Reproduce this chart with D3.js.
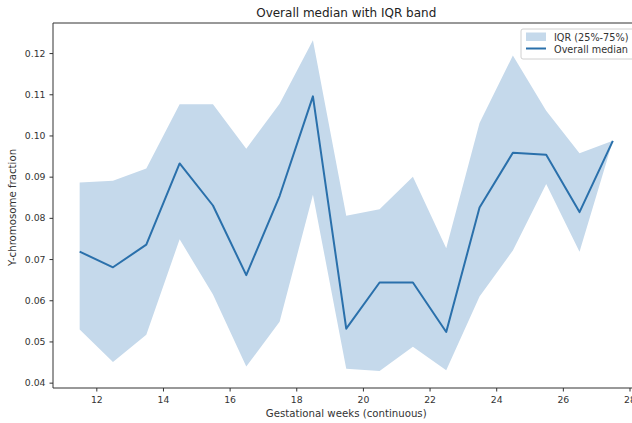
<!DOCTYPE html>
<html>
<head>
<meta charset="utf-8">
<script src="https://cdn.jsdelivr.net/npm/d3@7"></script>
<style>
  body { margin: 0; background: #fff; }
  svg { display: block; font-family: "DejaVu Sans", sans-serif; }
</style>
</head>
<body>
<svg id="chart" width="632" height="423"></svg>
<script>
// gestational week bins (bin centres)
const weeks = [11.5, 12.5, 13.5, 14.5, 15.5, 16.5, 17.5, 18.5, 19.5, 20.5, 21.5, 22.5, 23.5, 24.5, 25.5, 26.5, 27.5];
const median = [0.0718, 0.0680, 0.0735, 0.0932, 0.0830, 0.0661, 0.0853, 0.1095, 0.0531, 0.0643, 0.0643, 0.0523, 0.0825, 0.0958, 0.0953, 0.0814, 0.0987];
const q25 = [0.0529, 0.0450, 0.0516, 0.0748, 0.0614, 0.0439, 0.0548, 0.0856, 0.0434, 0.0428, 0.0487, 0.0430, 0.0609, 0.0721, 0.0882, 0.0718, 0.0987];
const q75 = [0.0886, 0.0890, 0.0920, 0.1076, 0.1076, 0.0968, 0.1077, 0.1231, 0.0805, 0.0821, 0.0900, 0.0726, 0.1030, 0.1194, 0.1060, 0.0957, 0.0987];
const xTicks = [12, 14, 16, 18, 20, 22, 24, 26, 28];
const yTicks = [0.04, 0.05, 0.06, 0.07, 0.08, 0.09, 0.10, 0.11, 0.12];

const svg = d3.select('#chart');
const margin = { top: 23, left: 53, bottom: 388, right: 639.5 };

const x = d3.scaleLinear().domain([10.7, 28.3]).range([margin.left, margin.right]);
const y = d3.scaleLinear().domain([0.0387, 0.1273]).range([margin.bottom, margin.top]);

const rows = weeks.map((w, i) => ({ w: w, m: median[i], lo: q25[i], hi: q75[i] }));

// IQR band
svg.append('path')
  .datum(rows)
  .attr('fill', '#c5d9eb')
  .attr('d', d3.area().x(d => x(d.w)).y0(d => y(d.lo)).y1(d => y(d.hi)));

// median line
svg.append('path')
  .datum(rows)
  .attr('fill', 'none')
  .attr('stroke', '#2a70ab')
  .attr('stroke-width', 2)
  .attr('stroke-linejoin', 'round')
  .attr('d', d3.line().x(d => x(d.w)).y(d => y(d.m)));

// axes
const xAxis = svg.append('g')
  .attr('transform', `translate(0,${margin.bottom})`)
  .call(d3.axisBottom(x).tickValues(xTicks).tickFormat(d3.format('d')).tickSize(3.5).tickPadding(4.5));
const yAxis = svg.append('g')
  .attr('transform', `translate(${margin.left},0)`)
  .call(d3.axisLeft(y).tickValues(yTicks).tickFormat(d3.format('.2f')).tickSize(3.5).tickPadding(4));

[xAxis, yAxis].forEach(g => {
  g.select('.domain').remove();
  g.selectAll('.tick line').attr('stroke', '#333');
  g.selectAll('.tick text').attr('fill', '#333').attr('font-size', 9.3).attr('font-family', '"DejaVu Sans", sans-serif');
});

// spines (left, bottom, top)
svg.append('path')
  .attr('fill', 'none')
  .attr('stroke', '#333')
  .attr('stroke-width', 1)
  .attr('d', `M${margin.right},${margin.top}H${margin.left}V${margin.bottom}H${margin.right}`);

// title and labels
svg.append('text')
  .attr('x', (margin.left + margin.right) / 2).attr('y', 17)
  .attr('text-anchor', 'middle').attr('font-size', 12).attr('fill', '#222')
  .text('Overall median with IQR band');

svg.append('text')
  .attr('x', (margin.left + margin.right) / 2).attr('y', 417)
  .attr('text-anchor', 'middle').attr('font-size', 10.2).attr('fill', '#333')
  .text('Gestational weeks (continuous)');

svg.append('text')
  .attr('transform', `translate(16,${(margin.top + margin.bottom) / 2 + 2}) rotate(-90)`)
  .attr('text-anchor', 'middle').attr('font-size', 10.2).attr('fill', '#333')
  .text('Y-chromosome fraction');

// legend
const legend = svg.append('g').attr('transform', 'translate(521,29)');
legend.append('rect')
  .attr('width', 130).attr('height', 30).attr('rx', 2)
  .attr('fill', 'rgba(255,255,255,0.85)').attr('stroke', '#d0d0d0');
legend.append('rect')
  .attr('x', 5).attr('y', 3.5).attr('width', 20).attr('height', 8.5)
  .attr('fill', '#c5d9eb');
legend.append('line')
  .attr('x1', 5).attr('x2', 25).attr('y1', 19.5).attr('y2', 19.5)
  .attr('stroke', '#2a70ab').attr('stroke-width', 2);
legend.append('text').attr('x', 33).attr('y', 11.5).attr('font-size', 9.7).attr('fill', '#333').text('IQR (25%-75%)');
legend.append('text').attr('x', 33).attr('y', 23.5).attr('font-size', 9.7).attr('fill', '#333').text('Overall median');
</script>
</body>
</html>
